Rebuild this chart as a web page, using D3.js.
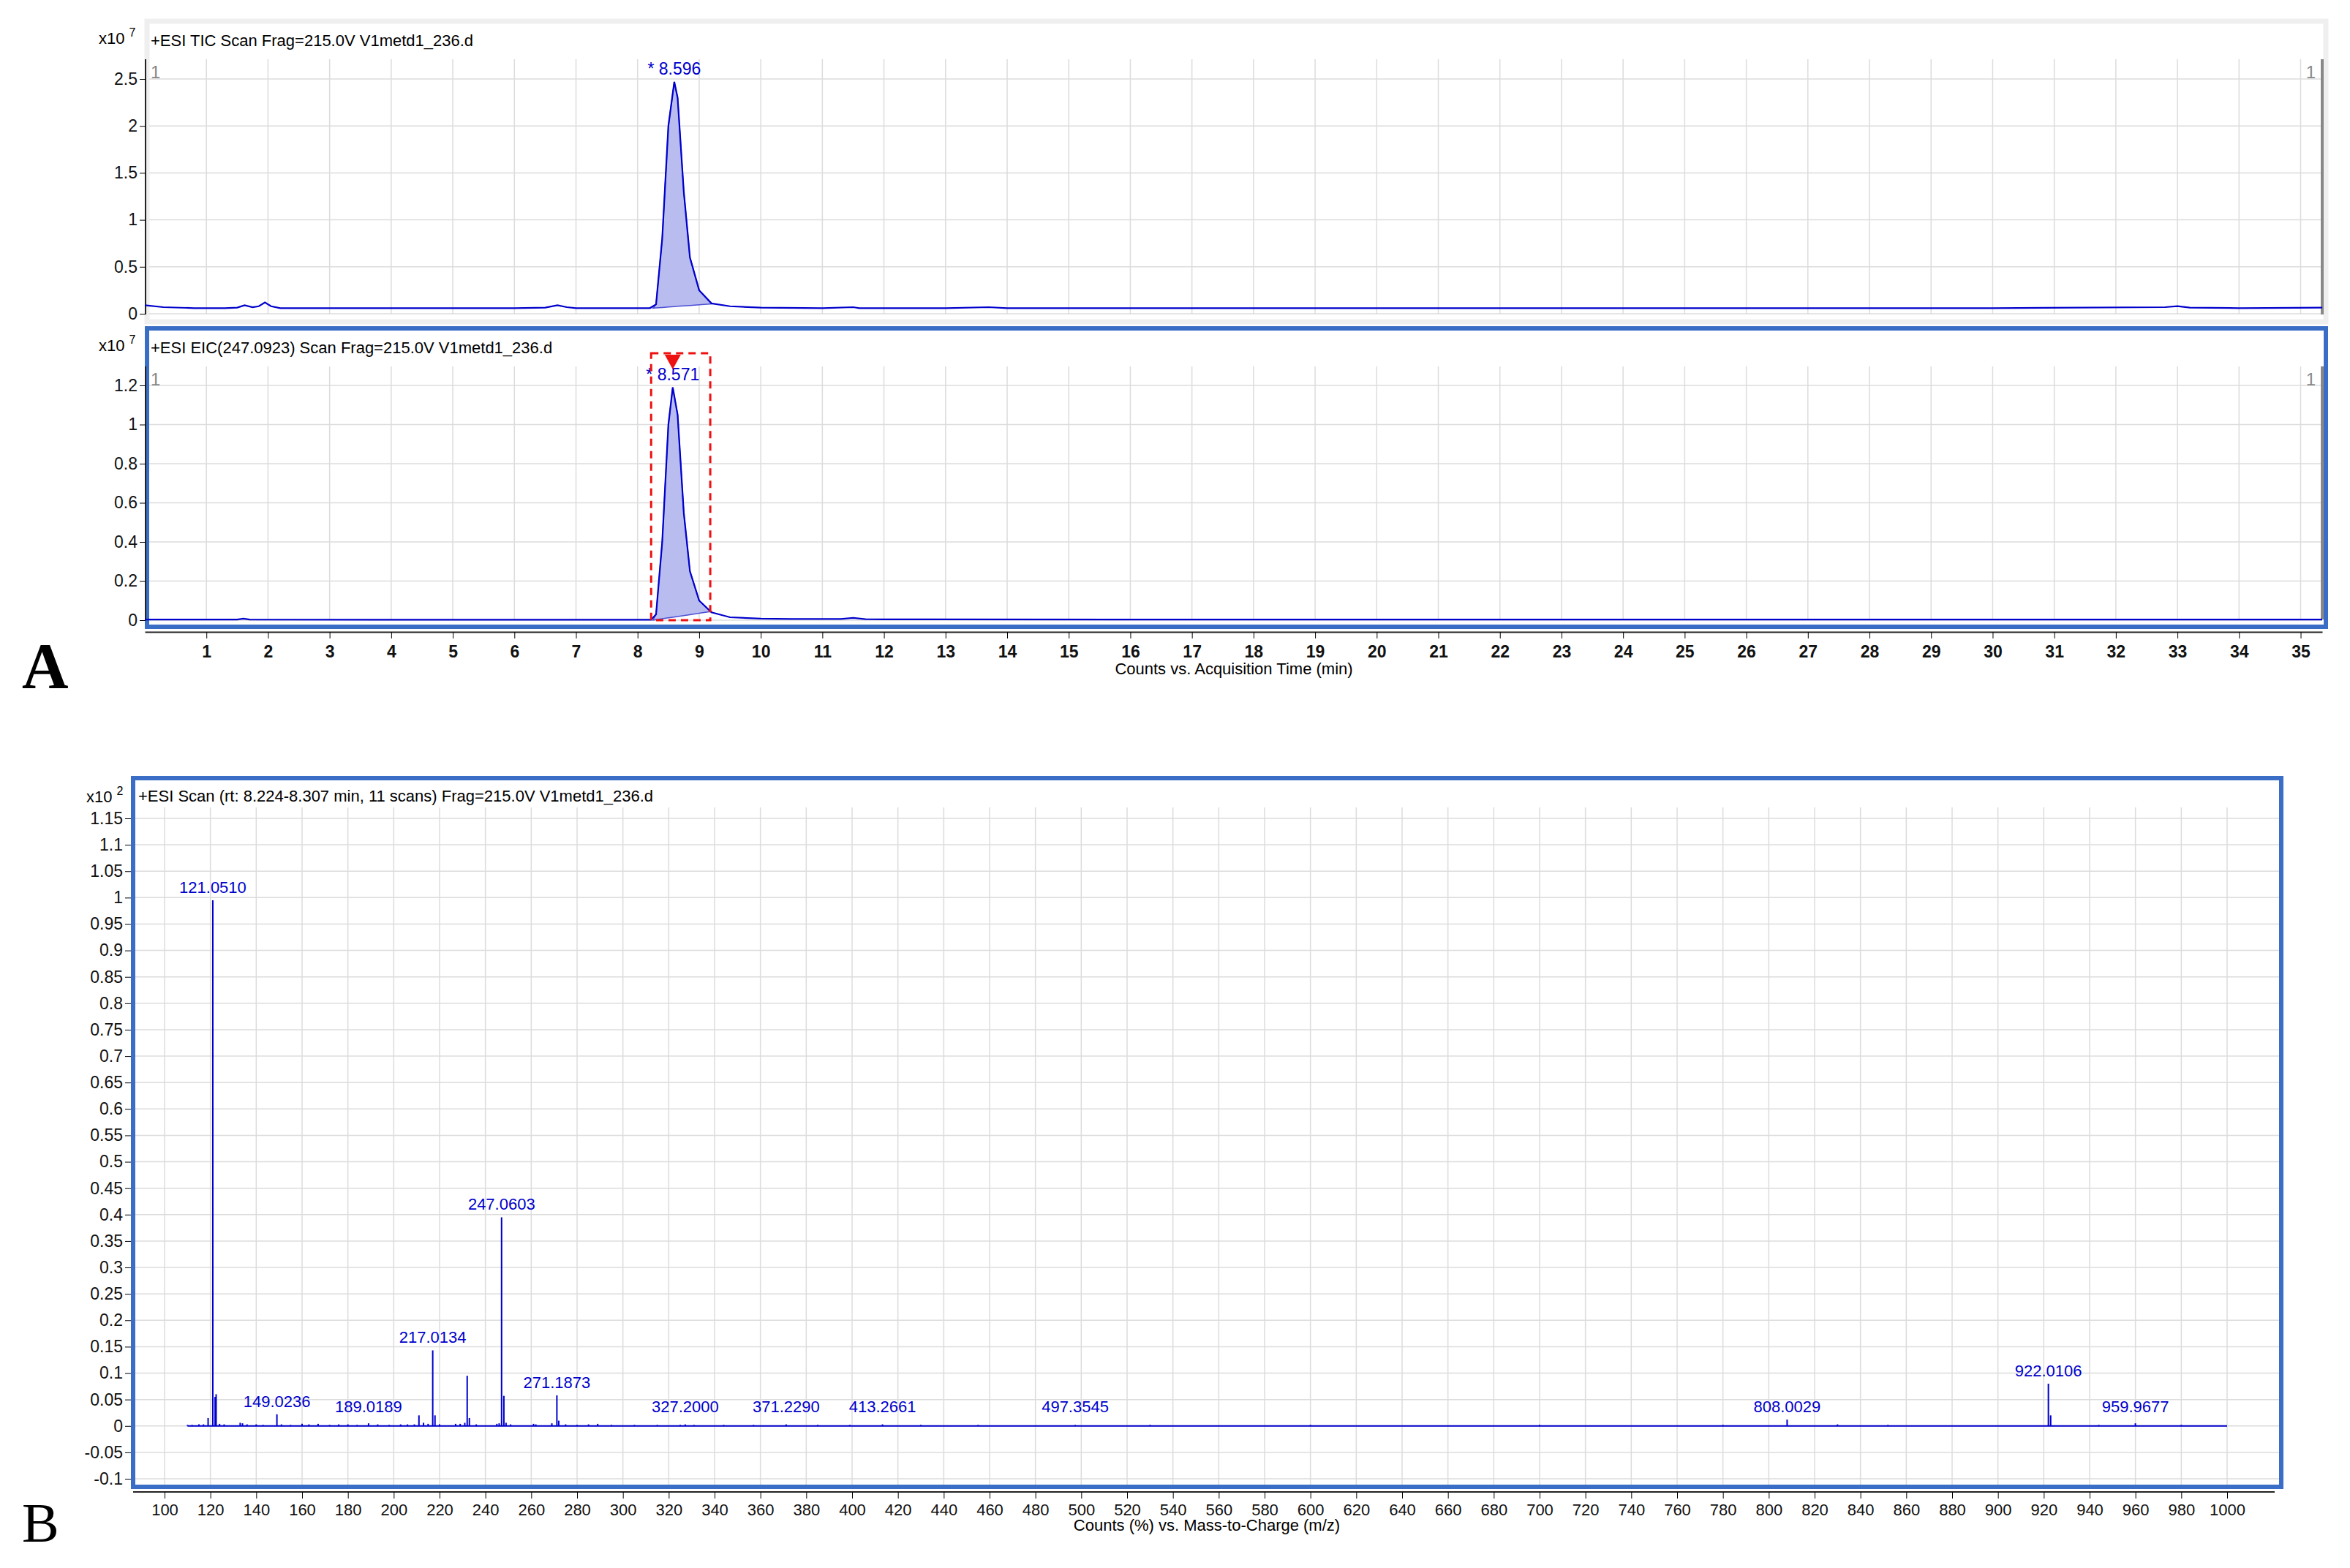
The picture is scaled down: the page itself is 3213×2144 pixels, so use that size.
<!DOCTYPE html>
<html><head><meta charset="utf-8">
<script src="https://cdn.jsdelivr.net/npm/d3@7"></script>
<style>body{margin:0;background:#fff}text{font-family:"Liberation Sans",Arial,sans-serif}</style>
</head><body>
<svg id="c" width="3213" height="2144"></svg>
<script>
// TIC trace (min, x10^7 counts)
var ticTime = [0,0.3,0.8,1.3,1.5,1.62,1.75,1.85,1.95,2.05,2.2,3,4,5,6,6.5,6.7,6.85,7,7.5,8,8.2,8.3,8.4,8.5,8.596,8.65,8.75,8.85,9.0,9.2,9.5,10,11,11.5,11.6,12,13,13.7,14,16,20,25,30,32.8,33,33.2,34,35.35]
var ticVal  = [0.09,0.07,0.06,0.06,0.065,0.09,0.07,0.08,0.12,0.08,0.06,0.06,0.06,0.06,0.06,0.065,0.09,0.07,0.06,0.06,0.06,0.06,0.1,0.8,2.0,2.47,2.3,1.3,0.6,0.25,0.11,0.08,0.065,0.06,0.07,0.06,0.06,0.06,0.07,0.06,0.06,0.06,0.06,0.06,0.07,0.08,0.065,0.06,0.065]
// EIC trace (min, x10^7 counts)
var eicTime = [0,1.5,1.6,1.7,8.22,8.3,8.4,8.5,8.571,8.65,8.75,8.85,9.0,9.2,9.5,10,10.5,11.3,11.5,11.7,12,20,35.35]
var eicVal  = [0.003,0.003,0.008,0.003,0.002,0.03,0.4,1.0,1.19,1.05,0.55,0.25,0.1,0.04,0.015,0.008,0.006,0.006,0.012,0.005,0.004,0.003,0.003]
var timeTicks = d3.range(1,36)
var ticTicks = [0,0.5,1,1.5,2,2.5]
var eicTicks = [0,0.2,0.4,0.6,0.8,1,1.2]
// integrated peaks: start, end, baseline at start / end
var ticPeak = {t0:8.25, t1:9.2, b0:0.06, b1:0.105, label:"* 8.596", rt:8.596}
var eicPeak = {t0:8.25, t1:9.2, b0:0.0, b1:0.045, label:"* 8.571", rt:8.571}
var eicBox = [8.22, 9.18]
// MS spectrum (m/z, x10^2 counts %)
var peakMz  = [110,112,115,117,119,121.051,122.05,122.5,124,126,133,134,136,140,143,149.0236,151,155,160,163,167,172,176,180,184,189.0189,193,198,203,206,209,211,213,215,217.0134,218,220,227,229,231,232.05,233,236,245,246,247.0603,248.06,249,251,261,262,269,271.1873,272,275,280,285,289,295,305,315,325,327.2,331,344,357,371.229,385,399,413.2661,430,455,497.3545,530,600,700,780,808.0029,830,852,922.0106,923,944,959.9677,980]
var peakInt = [0.002,0.002,0.003,0.003,0.015,0.995,0.055,0.06,0.004,0.003,0.006,0.005,0.003,0.003,0.002,0.022,0.003,0.002,0.004,0.003,0.004,0.002,0.003,0.003,0.002,0.005,0.003,0.002,0.003,0.003,0.003,0.02,0.006,0.004,0.143,0.02,0.003,0.004,0.004,0.006,0.095,0.015,0.003,0.004,0.005,0.395,0.057,0.006,0.003,0.004,0.003,0.005,0.058,0.01,0.003,0.002,0.003,0.004,0.002,0.002,0.002,0.002,0.003,0.002,0.002,0.002,0.003,0.002,0.002,0.003,0.002,0.002,0.002,0.002,0.002,0.002,0.002,0.012,0.003,0.002,0.08,0.02,0.002,0.005,0.002]
var peakLabels = ["121.0510","149.0236","189.0189","217.0134","247.0603","271.1873","327.2000","371.2290","413.2661","497.3545","808.0029","922.0106","959.9677"]
var mzTicks = d3.range(100,1001,20)
var msTicks = d3.range(-0.1,1.151,0.05).map(function(d){return Math.round(d*100)/100})

var svg = d3.select("#c")
var BLUE = "#0000cc", GRID = "#dcdcdc", FRAME = "#3a6ec6"
var fmt = function(d){ return (Math.round(d*100)/100)+"" }

var x = d3.scaleLinear().domain([0,35.35]).range([198,3175])

function chromPanel(top, bottom, y0pos, yTopVal, yTopPos, ticks, time, val, peak, title, frameCol, box){
	var y = d3.scaleLinear().domain([0,yTopVal]).range([y0pos,yTopPos])
	var g = svg.append("g")
	// frame
	g.append("rect").attr("x",201).attr("y",top).attr("width",2979).attr("height",bottom-top)
		.attr("fill","none").attr("stroke",frameCol).attr("stroke-width",frameCol==FRAME?6:7)
	var ptop = top+52, pbot = bottom-10
	// grid
	g.selectAll(".vg").data(timeTicks).enter().append("line")
		.attr("x1",d=>x(d)).attr("x2",d=>x(d)).attr("y1",ptop).attr("y2",pbot).attr("stroke",GRID).attr("stroke-width",1.5)
	g.selectAll(".hg").data(ticks).enter().append("line")
		.attr("x1",204).attr("x2",3175).attr("y1",d=>y(d)).attr("y2",d=>y(d)).attr("stroke",GRID).attr("stroke-width",1.5)
	// y axis
	var ax = g.append("g").attr("transform","translate(199,0)")
		.call(d3.axisLeft(y).tickValues(ticks).tickFormat(fmt).tickSize(8).tickSizeOuter(0))
	ax.select(".domain").attr("d","M0,"+ptop+"V"+pbot).attr("stroke","#222").attr("stroke-width",2)
	ax.selectAll("text").attr("font-size",23).attr("fill","#111")
	g.append("text").attr("x",135).attr("y",top+31).attr("font-size",22).text("x10").append("tspan").attr("dx",6).attr("dy",-10).attr("font-size",16).text("7")
	g.append("text").attr("x",206).attr("y",top+34).attr("font-size",22).text(title)
	g.append("text").attr("x",206).attr("y",ptop+26).attr("font-size",24).attr("fill","#888").text("1")
	g.append("text").attr("x",3166).attr("y",ptop+26).attr("font-size",24).attr("fill","#888").attr("text-anchor","end").text("1")
	g.append("line").attr("x1",3175).attr("x2",3175).attr("y1",ptop).attr("y2",pbot).attr("stroke","#888").attr("stroke-width",4)
	// integrated area
	var pts = []
	time.forEach(function(t,i){ if(t>=peak.t0 && t<=peak.t1) pts.push([t,val[i]]) })
	var bl = d3.scaleLinear().domain([peak.t0,peak.t1]).range([peak.b0,peak.b1])
	pts.unshift([peak.t0,peak.b0]); pts.push([peak.t1,peak.b1])
	g.append("path").attr("d",d3.area().x(d=>x(d[0])).y0(d=>y(bl(d[0]))).y1(d=>y(d[1]))(pts))
		.attr("fill","#b9bcef").attr("stroke","#4b4fd6").attr("stroke-width",1.5)
	// trace
	g.append("path").datum(time.map((t,i)=>[t,val[i]]))
		.attr("d",d3.line().x(d=>x(d[0])).y(d=>y(d[1])))
		.attr("fill","none").attr("stroke",BLUE).attr("stroke-width",2.2)
	var pk = d3.max(val)
	g.append("text").attr("x",x(peak.rt)).attr("y",y(pk)-10).attr("text-anchor","middle")
		.attr("font-size",23).attr("fill",BLUE).text(peak.label)
	if(box){
		g.append("rect").attr("x",x(box[0])).attr("y",top+34).attr("width",x(box[1])-x(box[0])).attr("height",y(0)-top-34)
			.attr("fill","none").attr("stroke","#ee1111").attr("stroke-width",3).attr("stroke-dasharray","10,7")
		var cx = x(peak.rt)
		g.append("path").attr("d","M"+(cx-11)+","+(top+36)+"L"+(cx+11)+","+(top+36)+"L"+cx+","+(top+56)+"Z").attr("fill","#ee1111")
	}
}

chromPanel(29, 440, 429, 2.5, 108, ticTicks, ticTime, ticVal, ticPeak, "+ESI TIC Scan Frag=215.0V V1metd1_236.d", "#efefef", null)
chromPanel(449, 857, 848, 1.2, 527, eicTicks, eicTime, eicVal, eicPeak, "+ESI EIC(247.0923) Scan Frag=215.0V V1metd1_236.d", FRAME, eicBox)

// time axis
var xa = svg.append("g").attr("transform","translate(0,864)").call(d3.axisBottom(x).tickValues(timeTicks).tickSize(9).tickSizeOuter(0))
xa.select(".domain").attr("stroke","#222").attr("stroke-width",2)
xa.selectAll("text").attr("font-size",23).attr("font-weight","bold").attr("fill","#111").attr("dy","1.0em")
svg.append("text").attr("x",1687).attr("y",922).attr("text-anchor","middle").attr("font-size",22).text("Counts vs. Acquisition Time (min)")
svg.append("text").attr("x",30).attr("y",940).style("font-family","'Liberation Serif',serif").attr("font-weight","bold").attr("font-size",88).text("A")

// ---- MS spectrum ----
var mx = d3.scaleLinear().domain([100,1000]).range([225,3045])
var my = d3.scaleLinear().domain([-0.1,1.15]).range([2022,1119])
var b = svg.append("g")
b.selectAll(".vg").data(mzTicks).enter().append("line")
	.attr("x1",d=>mx(d)).attr("x2",d=>mx(d)).attr("y1",1104).attr("y2",2032).attr("stroke",GRID).attr("stroke-width",1.5)
b.selectAll(".hg").data(msTicks).enter().append("line")
	.attr("x1",185).attr("x2",3116).attr("y1",d=>my(d)).attr("y2",d=>my(d)).attr("stroke",GRID).attr("stroke-width",1.5)
b.append("rect").attr("x",182).attr("y",1064).attr("width",2937).attr("height",969)
	.attr("fill","none").attr("stroke",FRAME).attr("stroke-width",6)
var ya = b.append("g").attr("transform","translate(179,0)")
	.call(d3.axisLeft(my).tickValues(msTicks).tickFormat(fmt).tickSize(8).tickSizeOuter(0))
ya.select(".domain").remove()
ya.selectAll("text").attr("font-size",23).attr("fill","#111")
b.append("text").attr("x",118).attr("y",1097).attr("font-size",22).text("x10").append("tspan").attr("dx",6).attr("dy",-10).attr("font-size",16).text("2")
b.append("text").attr("x",189).attr("y",1096).attr("font-size",22).text("+ESI Scan (rt: 8.224-8.307 min, 11 scans) Frag=215.0V V1metd1_236.d")
b.append("line").attr("x1",mx(110)).attr("x2",mx(1000)).attr("y1",my(0)).attr("y2",my(0)).attr("stroke",BLUE).attr("stroke-width",2)
b.selectAll(".pk").data(peakMz).enter().append("line")
	.attr("x1",d=>mx(d)).attr("x2",d=>mx(d)).attr("y1",my(0)).attr("y2",(d,i)=>my(peakInt[i]))
	.attr("stroke",BLUE).attr("stroke-width",2)
b.selectAll(".lb").data(peakLabels).enter().append("text")
	.attr("x",d=>mx(+d)).attr("y",function(d){
		var i = peakMz.indexOf(+d); return my(Math.max(peakInt[i],0.012))-10 })
	.attr("text-anchor","middle").attr("font-size",22).attr("fill",BLUE).text(d=>d)
var ma = svg.append("g").attr("transform","translate(0,2040)").call(d3.axisBottom(mx).tickValues(mzTicks).tickFormat(d=>d+"").tickSize(9).tickSizeOuter(0))
ma.select(".domain").attr("d","M182,0H3110").attr("stroke","#222").attr("stroke-width",2)
ma.selectAll("text").attr("font-size",22).attr("fill","#111").attr("dy","0.9em")
svg.append("text").attr("x",1650).attr("y",2093).attr("text-anchor","middle").attr("font-size",22).text("Counts (%) vs. Mass-to-Charge (m/z)")
svg.append("text").attr("x",30).attr("y",2108).style("font-family","'Liberation Serif',serif").attr("font-size",76).text("B")
</script>
</body></html>
